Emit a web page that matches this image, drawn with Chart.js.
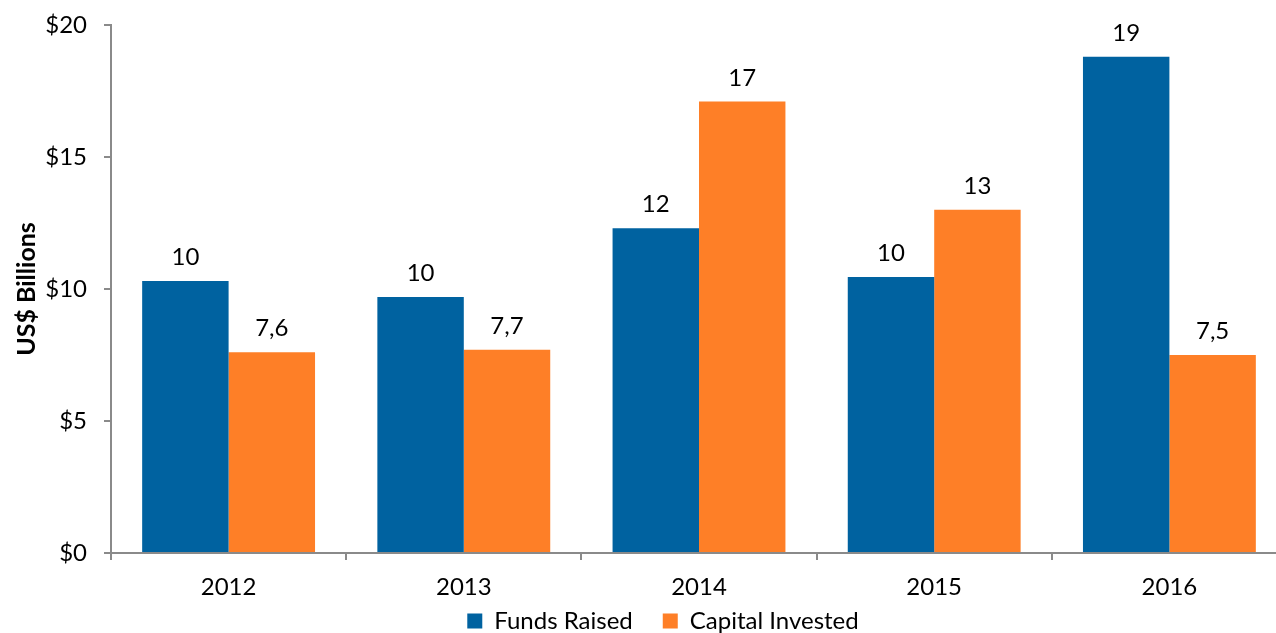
<!DOCTYPE html>
<html>
<head>
<meta charset="utf-8">
<script src="https://cdn.jsdelivr.net/npm/chart.js@4/dist/chart.umd.min.js"></script>
<style>
  html, body { margin: 0; padding: 0; background: #fff; overflow: hidden; }
  #wrap { width: 1300px; height: 666px; position: relative; }
</style>
</head>
<body>
<div id="wrap"><canvas id="c"></canvas></div>
<script>
// Yearly private equity activity, US$ billions
const years = ['2012', '2013', '2014', '2015', '2016'];
const fundsRaised = [10.3, 9.7, 12.3, 10.45, 18.8];
const capitalInvested = [7.6, 7.7, 17.1, 13.0, 7.5];
const yTicks = [0, 5, 10, 15, 20];
const seriesNames = ['Funds Raised', 'Capital Invested'];

const FONT = 'Lato, "Open Sans", sans-serif';
const AXIS_GREY = '#8a8a8a';
const LEGEND_CENTER_X = 663;
const LEGEND_TOP = 579;

// Funds shown as whole numbers, capital with two significant digits (comma decimal)
function fmtFunds(v) { return String(Math.round(v)); }
function fmtCapital(v) { return Number(v.toPrecision(2)).toString().replace('.', ','); }
const formatters = [fmtFunds, fmtCapital];

const valueLabels = {
  id: 'valueLabels',
  afterDatasetsDraw(chart) {
    const ctx = chart.ctx;
    ctx.save();
    ctx.font = '24px ' + FONT;
    ctx.fillStyle = '#000';
    ctx.textAlign = 'center';
    ctx.textBaseline = 'alphabetic';
    chart.data.datasets.forEach((ds, di) => {
      chart.getDatasetMeta(di).data.forEach((bar, i) => {
        ctx.fillText(formatters[di](ds.data[i]), bar.x, bar.y - 16);
      });
    });
    ctx.restore();
  }
};

// Place the legend row just under the year labels
const legendPlace = {
  id: 'legendPlace',
  afterLayout(chart) {
    const lg = chart.legend;
    if (!lg) return;
    const w = lg.right - lg.left;
    const h = lg.bottom - lg.top;
    lg.left = LEGEND_CENTER_X - w / 2;
    lg.right = lg.left + w;
    lg.top = LEGEND_TOP;
    lg.bottom = LEGEND_TOP + h;
  }
};

new Chart(document.getElementById('c'), {
  type: 'bar',
  data: {
    labels: years,
    datasets: [
      { label: seriesNames[0], data: fundsRaised, backgroundColor: '#0062a0',
        categoryPercentage: 0.735, barPercentage: 1.0 },
      { label: seriesNames[1], data: capitalInvested, backgroundColor: '#fe7f27',
        categoryPercentage: 0.735, barPercentage: 1.0 }
    ]
  },
  options: {
    responsive: true,
    maintainAspectRatio: false,
    animation: false,
    layout: { padding: { top: 25, left: 0, right: 13, bottom: 0 } },
    plugins: {
      tooltip: { enabled: false },
      legend: {
        position: 'bottom',
        labels: {
          font: { family: FONT, size: 24 },
          color: '#000',
          boxWidth: 15,
          boxHeight: 15,
          padding: 30
        }
      }
    },
    scales: {
      x: {
        afterFit(s) { s.height = 49; },
        border: { color: AXIS_GREY, width: 2 },
        grid: { drawOnChartArea: false, tickLength: 7, color: AXIS_GREY, lineWidth: 2, offset: true },
        ticks: { font: { family: FONT, size: 24 }, color: '#000', padding: 13, maxRotation: 0, autoSkip: false }
      },
      y: {
        min: 0,
        max: 20,
        afterFit(s) { s.width = 111; s.paddingTop = 0; s.paddingBottom = 0; },
        afterBuildTicks(s) { s.ticks = yTicks.map(v => ({ value: v })); },
        border: { color: AXIS_GREY, width: 2 },
        grid: { drawOnChartArea: false, tickLength: 7, color: AXIS_GREY, lineWidth: 2 },
        ticks: {
          font: { family: FONT, size: 24 },
          color: '#000',
          padding: 17,
          callback: v => '$' + v
        },
        title: {
          display: true,
          text: 'US$ Billions',
          font: { family: FONT, size: 25, weight: 'bold' },
          color: '#000',
          padding: { top: 12, bottom: 0 }
        }
      }
    }
  },
  plugins: [valueLabels, legendPlace]
});
</script>
</body>
</html>
